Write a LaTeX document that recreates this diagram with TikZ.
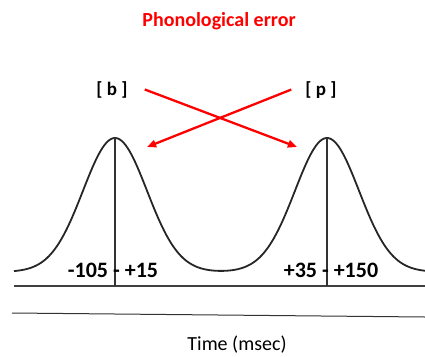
\documentclass[tikz,border=0pt]{standalone}
\usepackage{fontspec}
\setmainfont{Carlito}
\usepackage{tikz}
\usetikzlibrary{arrows.meta, positioning}
\usepackage{xcolor}

\begin{document}
\begin{tikzpicture}[
    x=1pt, y=-1pt,
    heading/.style={text=red, font=\bfseries\fontsize{20}{22}\selectfont, inner sep=0pt, anchor=base},
    phone/.style={font=\bfseries\fontsize{19}{21}\selectfont, inner sep=0pt, anchor=base},
    timespan/.style={font=\bfseries\fontsize{22}{24}\selectfont, inner sep=0pt, anchor=base},
    axislabel/.style={font=\fontsize{20}{22}\selectfont, inner sep=0pt, anchor=base},
    curve/.style={line width=1.8pt, black!85},
    axis/.style={line width=1.6pt, black!75},
    arrow/.style={-{Triangle[length=3.2mm, width=2.6mm]}, line width=2.3pt, red}
]
    \useasboundingbox (0,0) rectangle (425,356);

    % two activation peaks
    \draw[curve] plot[domain=14:425, samples=200, smooth]
        (\x, {272 - 134*(exp(-0.5*((\x-115)/32)^2) + exp(-0.5*((\x-327)/32)^2))});
    \draw[axis] (14,286) -- (425,286);
    \draw[line width=1pt, black!80] (12,313) -- (425,317);

    \coordinate (peakb) at (115,138);
    \coordinate (peakp) at (327,138);
    \coordinate (baseb) at (115,286);
    \coordinate (basep) at (327,286);
    \draw[line width=1.2pt, black!80] (peakb) -- (baseb);
    \draw[line width=1.2pt, black!80] (peakp) -- (basep);

    \node[heading] (title) at (219,26) {Phonological error};
    \node[phone] (b) at (112,95) {[ b ]};
    \node[phone] (p) at (321,95) {[ p ]};
    \node[timespan] (spanb) at (113,277) {-105 - +15};
    \node[timespan] (spanp) at (331,277) {+35 - +150};
    \node[axislabel] (time) at (237,350) {Time (msec)};

    \coordinate (hitb) at (147,147);
    \coordinate (hitp) at (297,147);
    \draw[arrow] (b.east) ++(17,0) -- (hitp);
    \draw[arrow] (p.west) ++(-14,0) -- (hitb);
\end{tikzpicture}
\end{document}
